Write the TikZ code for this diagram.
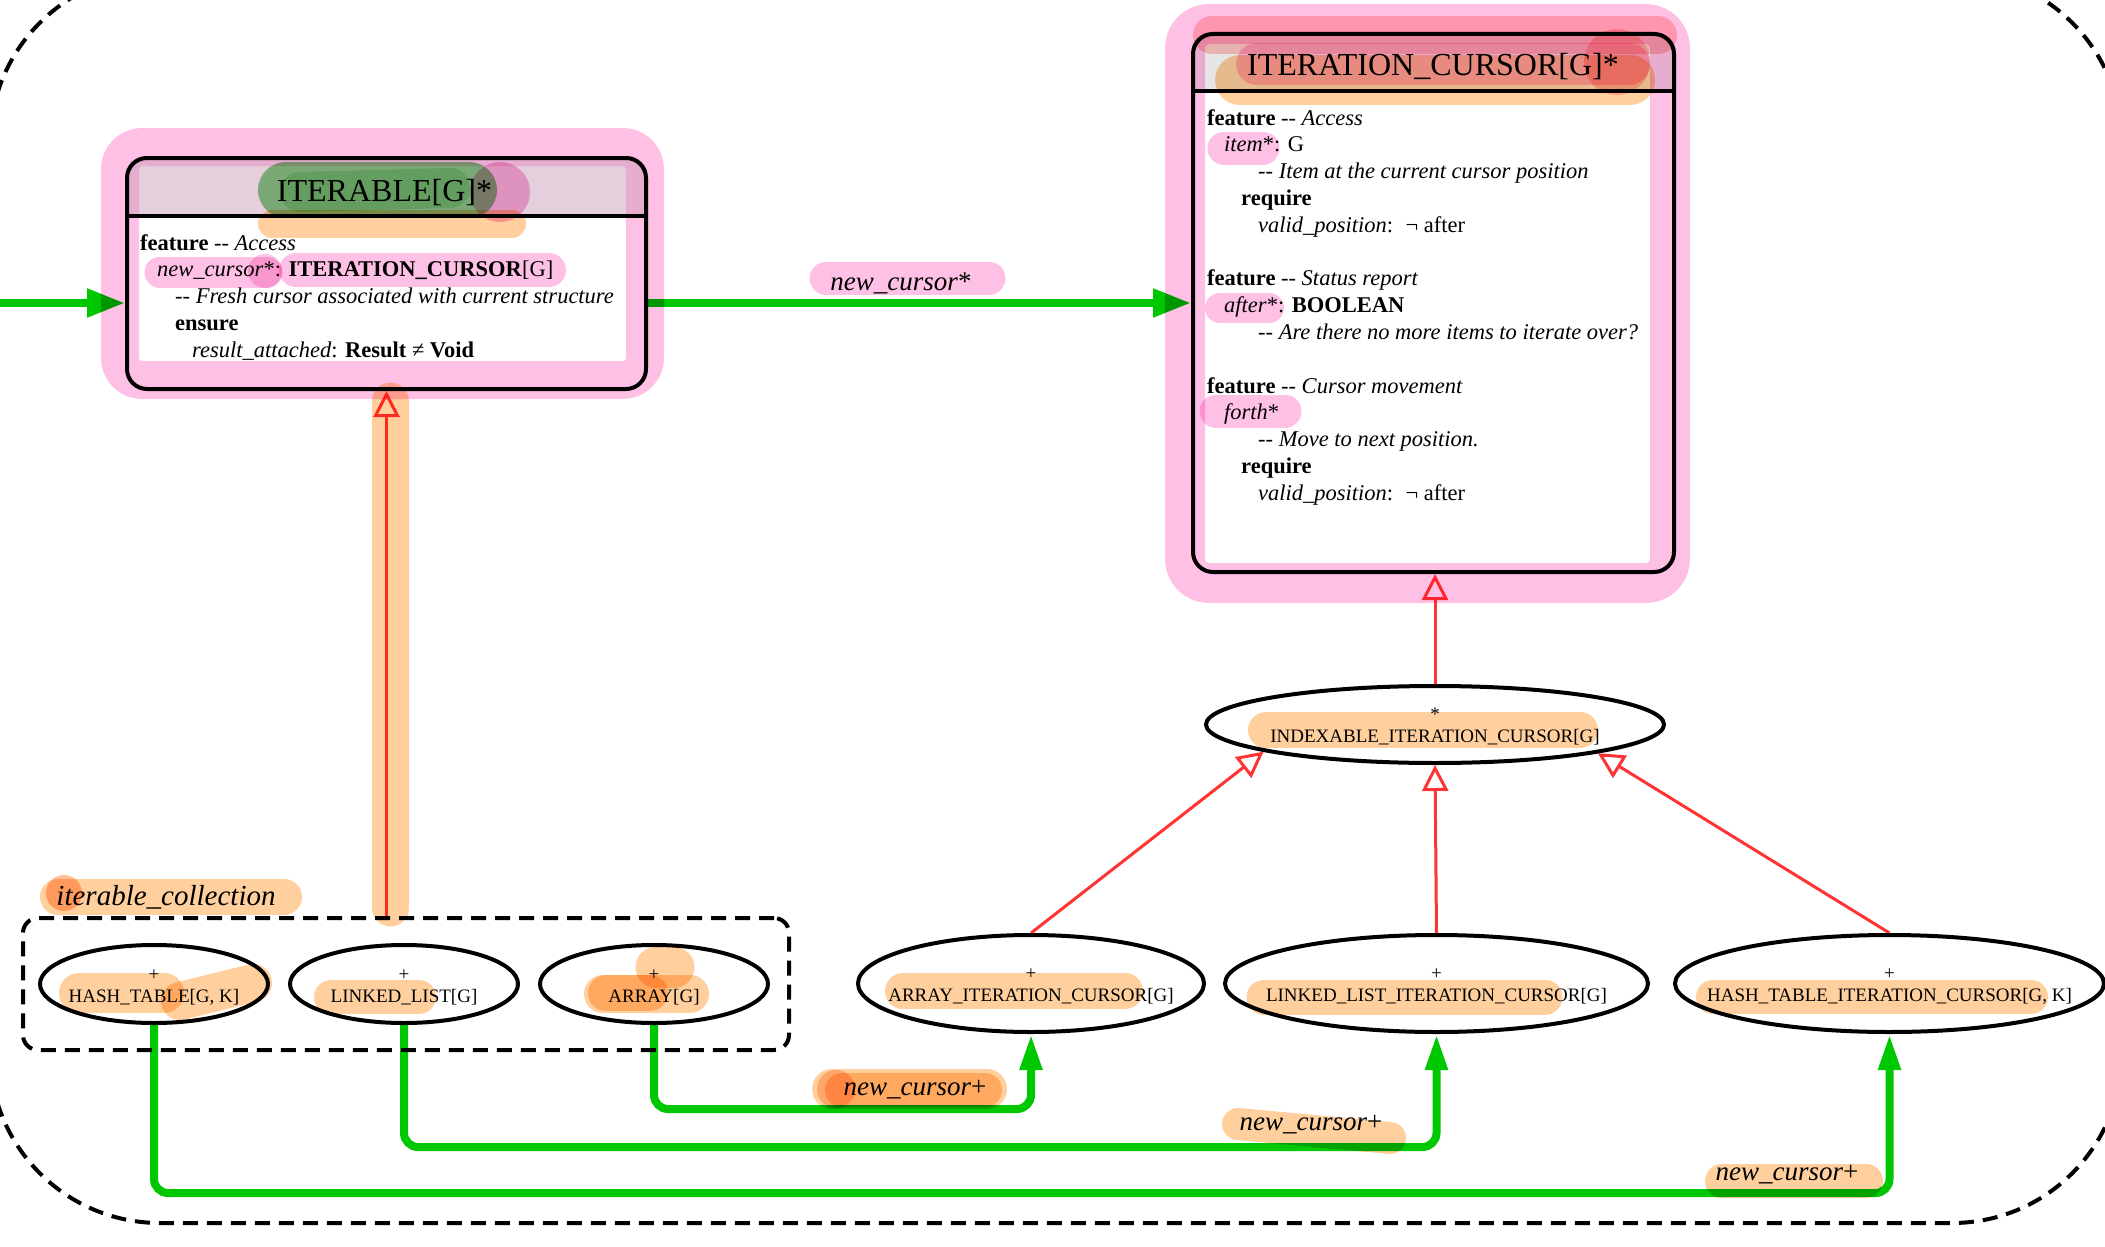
\documentclass[tikz,border=0pt]{standalone}
\usepackage{fontspec}
\setmainfont{Liberation Serif}
\usetikzlibrary{arrows.meta,shapes.geometric}
\pgfdeclarelayer{bg}
\pgfdeclarelayer{conn}
\pgfdeclarelayer{hl}
\pgfsetlayers{bg,conn,hl,main}
\definecolor{fgreen}{RGB}{0,200,0}
\definecolor{ired}{RGB}{255,51,51}
\definecolor{hdr}{RGB}{230,230,230}
\definecolor{hpink}{RGB}{255,130,205}
\definecolor{hmag}{RGB}{235,70,170}
\definecolor{horange}{RGB}{255,160,60}
\definecolor{hdorange}{RGB}{255,110,20}
\definecolor{hgreen}{RGB}{20,165,20}
\definecolor{hred}{RGB}{255,70,60}
\newcommand\dd{\mbox{-}\mbox{-}}
\begin{document}
\begin{tikzpicture}[x=1pt,y=-1pt,
  umlbox/.style={draw, line width=4pt, rounded corners=20pt, inner sep=0pt},
  ttl/.style={anchor=base, inner sep=0pt, font=\fontsize{32}{38}\selectfont},
  bodytxt/.style={anchor=base west, inner sep=0pt, font=\fontsize{22.5}{26.8}\selectfont},
  cls/.style={draw, ellipse, line width=4pt, inner sep=0pt},
  clstxt/.style={anchor=base, inner sep=0pt, yshift=4pt, font=\fontsize{19}{22}\selectfont},
  flowh/.style={fgreen, line width=8pt, -{Triangle[length=38pt,width=27pt]}},
  flowv/.style={fgreen, line width=8pt, rounded corners=14pt, -{Triangle[length=36pt,width=21pt]}},
  inh/.style={ired, line width=3pt, -{Triangle[open,length=26pt,width=26pt,fill=white]}},
  elab/.style={anchor=base, inner sep=0pt, font=\fontsize{27}{32}\selectfont},
  clusterline/.style={line width=4pt, dash pattern=on 15pt off 9pt},
  hlt/.style={line cap=round, line join=round, opacity=0.5},
]
\useasboundingbox (0,0) rectangle (2105,1247);

% outer cluster
\draw[clusterline, rounded corners=170pt] (-10,-27) rectangle (2122,1223);

% class boxes
\node[umlbox, minimum width=519pt, minimum height=231pt] (iterable) at (386.5,273.5) {};
\node[umlbox, minimum width=481pt, minimum height=538pt] (cursor) at (1433.5,303) {};
\draw[line width=4pt] (iterable.west |- 0,216) -- (iterable.east |- 0,216);
\draw[line width=4pt] (cursor.west |- 0,91) -- (cursor.east |- 0,91);

\begin{pgfonlayer}{bg}
\begin{scope}
\clip (iterable.north west) rectangle (iterable.east |- 0,216);
\fill[hdr, rounded corners=20pt] (iterable.north west) rectangle (iterable.south east);
\end{scope}
\begin{scope}
\clip (cursor.north west) rectangle (cursor.east |- 0,91);
\fill[hdr, rounded corners=20pt] (cursor.north west) rectangle (cursor.south east);
\end{scope}
\end{pgfonlayer}

\node[ttl] (t1) at (384.5,201) {ITERABLE[G]*};
\node[ttl] (t2) at (1433,75) {ITERATION\_CURSOR[G]*};

\node[bodytxt] (b1) at (140,250) {\begin{tabular}[t]{@{}l@{}}
\textbf{feature} \dd{} \textit{Access}\\
\hspace*{17pt}\textit{new\_cursor}*: \textbf{ITERATION\_CURSOR}[G]\\
\hspace*{35pt}\dd{} \textit{Fresh cursor associated with current structure}\\
\hspace*{35pt}\textbf{ensure}\\
\hspace*{52pt}\textit{result\_attached}: \textbf{Result} ≠ \textbf{Void}
\end{tabular}};

\node[bodytxt] (b2) at (1207,125) {\begin{tabular}[t]{@{}l@{}}
\textbf{feature} \dd{} \textit{Access}\\
\hspace*{17pt}\textit{item}*: G\\
\hspace*{51pt}\dd{} \textit{Item at the current cursor position}\\
\hspace*{34pt}\textbf{require}\\
\hspace*{51pt}\textit{valid\_position}:\hspace{0.55em}¬ after\\
\\
\textbf{feature} \dd{} \textit{Status report}\\
\hspace*{17pt}\textit{after}*: \textbf{BOOLEAN}\\
\hspace*{51pt}\dd{} \textit{Are there no more items to iterate over?}\\
\\
\textbf{feature} \dd{} \textit{Cursor movement}\\
\hspace*{17pt}\textit{forth}*\\
\hspace*{51pt}\dd{} \textit{Move to next position.}\\
\hspace*{34pt}\textbf{require}\\
\hspace*{51pt}\textit{valid\_position}:\hspace{0.55em}¬ after
\end{tabular}};

% ellipses
\node[cls, minimum width=458pt, minimum height=77pt] (index) at (1435,724.5) {};
\node[clstxt] (indext) at (index.center) {\begin{tabular}[t]{@{}c@{}}*\\INDEXABLE\_ITERATION\_CURSOR[G]\end{tabular}};
\node[cls, minimum width=346pt, minimum height=97pt] (aic) at (1031,983.5) {};
\node[clstxt] (aict) at (aic.center) {\begin{tabular}[t]{@{}c@{}}+\\ARRAY\_ITERATION\_CURSOR[G]\end{tabular}};
\node[cls, minimum width=423pt, minimum height=97pt] (llic) at (1436.5,983.5) {};
\node[clstxt] (llict) at (llic.center) {\begin{tabular}[t]{@{}c@{}}+\\LINKED\_LIST\_ITERATION\_CURSOR[G]\end{tabular}};
\node[cls, minimum width=429pt, minimum height=97pt] (htic) at (1889.5,983.5) {};
\node[clstxt] (htict) at (htic.center) {\begin{tabular}[t]{@{}c@{}}+\\HASH\_TABLE\_ITERATION\_CURSOR[G, K]\end{tabular}};

\node[draw, clusterline, rounded corners=15pt, minimum width=766pt, minimum height=132pt, inner sep=0pt] (coll) at (406,984) {};
\node[elab, font=\fontsize{29}{34}\selectfont\itshape] (colllab) at (166,905) {iterable\_collection};
\node[cls, minimum width=228pt, minimum height=78pt] (ht) at (154,984) {};
\node[clstxt] (htt) at (ht.center) {\begin{tabular}[t]{@{}c@{}}+\\HASH\_TABLE[G, K]\end{tabular}};
\node[cls, minimum width=228pt, minimum height=78pt] (ll) at (404,984) {};
\node[clstxt] (llt) at (ll.center) {\begin{tabular}[t]{@{}c@{}}+\\LINKED\_LIST[G]\end{tabular}};
\node[cls, minimum width=228pt, minimum height=78pt] (arr) at (654,984) {};
\node[clstxt] (arrt) at (arr.center) {\begin{tabular}[t]{@{}c@{}}+\\ARRAY[G]\end{tabular}};

% edge labels
\node[elab] (lab0) at (901,290) {\textit{new\_cursor}*};
\node[elab] (lab1) at (915,1095) {\textit{new\_cursor}+};
\node[elab] (lab2) at (1311,1130) {\textit{new\_cursor}+};
\node[elab] (lab3) at (1787,1180) {\textit{new\_cursor}+};

% connectors
\begin{pgfonlayer}{conn}
\coordinate (src) at (-5,303);
\draw[flowh] (src) -- (src -| iterable.west);
\draw[flowh] (cursor.west -| iterable.east) -- (cursor.west);
\draw[inh] (iterable.south |- coll.north) -- (iterable.south);
\draw[inh] (index.north) -- (index.north |- cursor.south);
\draw[inh] (aic.north) -- (index.189.5);
\draw[inh] (llic.north) -- (index.south);
\draw[inh] (htic.north) -- (index.350.5);
\draw[flowv] (arr.south) -- (arr.south |- 0,1109) -- (aic.south |- 0,1109) -- (aic.south);
\draw[flowv] (ll.south) -- (ll.south |- 0,1147) -- (llic.south |- 0,1147) -- (llic.south);
\draw[flowv] (ht.south) -- (ht.south |- 0,1193) -- (htic.south |- 0,1193) -- (htic.south);
\end{pgfonlayer}

% highlighter marks
\begin{pgfonlayer}{hl}
\begin{scope}[blend mode=multiply]
\draw[hlt, hpink, line width=38pt, rounded corners=22pt] (120,147) rectangle (645,380);
\fill[hlt, hpink, opacity=0.2] (139,166) rectangle (626,216);
\draw[hlt, hpink, line width=40pt, rounded corners=24pt] (1185,24) rectangle (1670,583);
\draw[hlt, hred, opacity=0.3, line width=38pt] (1212,35) -- (1658,35);
\draw[hlt, horange, line width=50pt] (1240,80) -- (1630,80);
\draw[hlt, hpink, line width=42pt] (1257,64) -- (1629,64);
\fill[hlt, hred, opacity=0.3] (1617,62) circle (33pt);
\draw[hlt, hgreen, line width=56pt] (286,190) -- (469,190);
\draw[hlt, hgreen, opacity=0.2, line width=40pt] (300,192) -- (450,188);
\fill[hlt, hmag, opacity=0.4] (500,192) circle (30pt);
\draw[hlt, horange, line width=28pt] (272,224) -- (512,224);
\draw[hlt, hpink, line width=31pt] (160,272) -- (267,272);
\draw[hlt, hpink, line width=34pt] (296,270) -- (549,270);
\fill[hlt, hmag, opacity=0.3] (265,271) circle (17pt);
\draw[hlt, hpink, line width=33pt] (1224,148) -- (1263,148);
\draw[hlt, hpink, line width=30pt] (1220,308) -- (1269,308);
\draw[hlt, hpink, line width=33pt] (1216,411) -- (1285,411);
\draw[hlt, hpink, line width=33pt] (826,278) -- (989,278);
\draw[hlt, horange, line width=37pt] (390.5,401) -- (390.5,908);
\draw[hlt, horange, line width=36pt] (58,897) -- (284,897);
\fill[hlt, hdorange, opacity=0.45] (64,893) circle (18pt);
\draw[hlt, horange, line width=40pt] (79,993) -- (164,993);
\draw[hlt, horange, line width=38pt] (180,1001) -- (253,983);
\draw[hlt, horange, line width=34pt] (331,997) -- (419,997);
\draw[hlt, horange, line width=41pt] (656,967) -- (674,967);
\draw[hlt, horange, line width=38pt] (603,994) -- (690,994);
\draw[hlt, horange, line width=36pt] (606,993) -- (650,993);
\draw[hlt, horange, line width=36pt] (1266,730) -- (1580,730);
\draw[hlt, horange, line width=36pt] (903,991) -- (1125,991);
\draw[hlt, horange, line width=35pt] (1264,997) -- (1545,997);
\draw[hlt, horange, line width=34pt] (1713,997) -- (2031,997);
\draw[hlt, horange, line width=40pt] (832,1089) -- (987,1089);
\draw[hlt, horange, line width=34pt] (842,1090) -- (985,1090);
\fill[hlt, hdorange, opacity=0.35] (836,1089) circle (19pt);
\draw[hlt, horange, line width=32pt] (1238,1124) -- (1390,1138);
\draw[hlt, horange, line width=34pt] (1722,1181) -- (1866,1181);
\end{scope}
\end{pgfonlayer}
\end{tikzpicture}
\end{document}
